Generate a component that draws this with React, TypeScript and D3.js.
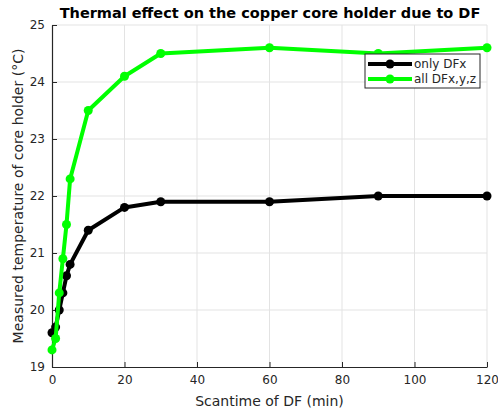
import React, { useEffect, useRef } from 'react';
import * as d3 from 'd3';

const scanTime = [0, 1, 2, 3, 4, 5, 10, 20, 30, 60, 90, 120];
const onlyDFx = [19.6, 19.7, 20.0, 20.3, 20.6, 20.8, 21.4, 21.8, 21.9, 21.9, 22.0, 22.0];
const allDFxyz = [19.3, 19.5, 20.3, 20.9, 21.5, 22.3, 23.5, 24.1, 24.5, 24.6, 24.5, 24.6];
const allTime = [0, 1, 2, 3, 4, 5, 10, 20, 30, 60, 90, 120];
const xTicks = [0, 20, 40, 60, 80, 100, 120];
const yTicks = [19, 20, 21, 22, 23, 24, 25];
const seriesNames = ['only DFx', 'all DFx,y,z'];
const seriesColors = ['#000000', '#00ff00'];

const App = () => {
  const ref = useRef<SVGSVGElement>(null);

  useEffect(() => {
    const svg = d3.select(ref.current);
    svg.selectAll('*').remove();
    const font = 'DejaVu Sans, sans-serif';
    const ink = '#262626';

    const x = d3.scaleLinear().domain([0, 120]).range([52, 487]);
    const y = d3.scaleLinear().domain([19, 25]).range([367, 25]);

    const g = svg.append('g');

    // grid
    g.selectAll('.gx').data(xTicks.slice(1)).join('line')
      .attr('x1', d => x(d)).attr('x2', d => x(d))
      .attr('y1', y(19)).attr('y2', y(25))
      .attr('stroke', '#e3e3e3').attr('stroke-width', 1);
    g.selectAll('.gy').data(yTicks.slice(1)).join('line')
      .attr('x1', x(0)).attr('x2', x(120))
      .attr('y1', d => y(d)).attr('y2', d => y(d))
      .attr('stroke', '#e3e3e3').attr('stroke-width', 1);

    // axes
    const fmt = d3.format('d');
    const xAxis = g.append('g').attr('transform', `translate(0, ${y(19)})`)
      .call(d3.axisBottom(x).tickValues(xTicks).tickFormat(fmt).tickSizeInner(-5).tickSizeOuter(0).tickPadding(8));
    const yAxis = g.append('g').attr('transform', `translate(${x(0)}, 0)`)
      .call(d3.axisLeft(y).tickValues(yTicks).tickFormat(fmt).tickSizeInner(-5).tickSizeOuter(0).tickPadding(7));
    [xAxis, yAxis].forEach(a => {
      a.select('.domain').attr('stroke', ink).attr('stroke-width', 1.2);
      a.selectAll('.tick line').attr('stroke', ink);
      a.selectAll('.tick text').attr('fill', ink).style('font-family', font).style('font-size', '12px');
    });

    // series
    const data = [
      scanTime.map((t, i) => [t, onlyDFx[i]]),
      allTime.map((t, i) => [t, allDFxyz[i]]),
    ];
    const line = d3.line<number[]>().x(d => x(d[0])).y(d => y(d[1]));
    data.forEach((pts, k) => {
      g.append('path').datum(pts).attr('d', line)
        .attr('fill', 'none').attr('stroke', seriesColors[k]).attr('stroke-width', 4)
        .attr('stroke-linejoin', 'round');
      g.selectAll(`.pt${k}`).data(pts).join('circle')
        .attr('cx', d => x(d[0])).attr('cy', d => y(d[1])).attr('r', 4.5)
        .attr('fill', seriesColors[k]);
    });

    // title and labels
    svg.append('text').text('Thermal effect on the copper core holder due to DF')
      .attr('x', 270).attr('y', 18).attr('text-anchor', 'middle')
      .style('font-family', font).style('font-size', '14.5px').style('font-weight', 'bold')
      .attr('fill', '#000');
    svg.append('text').text('Scantime of DF (min)')
      .attr('x', 269.5).attr('y', 406).attr('text-anchor', 'middle')
      .style('font-family', font).style('font-size', '14px').attr('fill', ink);
    svg.append('text').text('Measured temperature of core holder (°C)')
      .attr('transform', `translate(23, ${y(22)}) rotate(-90)`).attr('text-anchor', 'middle')
      .style('font-family', font).style('font-size', '14px').attr('fill', ink);

    // legend
    const lg = svg.append('g').attr('transform', 'translate(365, 54)');
    lg.append('rect').attr('width', 115).attr('height', 34)
      .attr('fill', '#fff').attr('stroke', ink).attr('stroke-width', 1);
    seriesNames.forEach((name, k) => {
      const yy = 10 + k * 15;
      lg.append('line').attr('x1', 3).attr('x2', 47).attr('y1', yy).attr('y2', yy)
        .attr('stroke', seriesColors[k]).attr('stroke-width', 4);
      lg.append('circle').attr('cx', 25).attr('cy', yy).attr('r', 4.5).attr('fill', seriesColors[k]);
      lg.append('text').text(name).attr('x', 49).attr('y', yy + 4)
        .style('font-family', font).style('font-size', '12px').attr('fill', ink);
    });
  }, []);

  return <svg ref={ref} width={498} height={414} style={{ position: 'absolute', left: 0, top: 0 }} />;
};

export default App;
